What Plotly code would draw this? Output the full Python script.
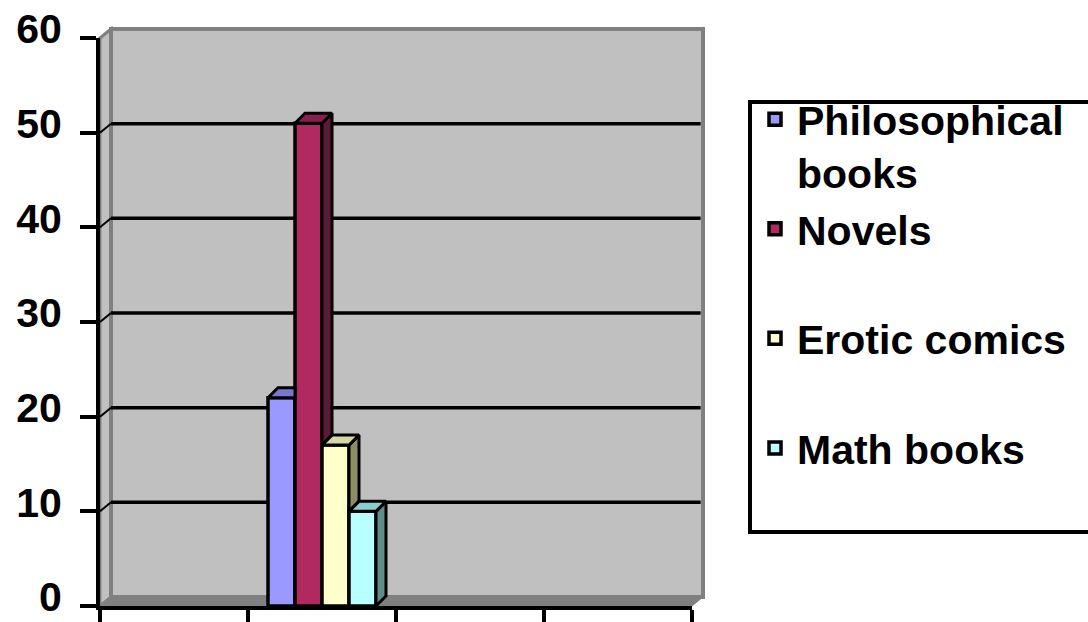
import plotly.graph_objects as go

# ---------------- data ----------------
series_names = ["Philosophical<br>books", "Novels", "Erotic comics", "Math books"]
series_values = [22, 51, 17, 10]
front_colors = ["#9999FF", "#B0295F", "#FFFFCC", "#B8FFFF"]
side_colors = ["#5C5C99", "#5E1A3A", "#8C8C66", "#5E8C88"]
top_colors = ["#7777CC", "#8A2050", "#D6D6A6", "#8CCCCC"]
y_tick_values = [0, 10, 20, 30, 40, 50, 60]
x_slot_edges = [0, 1, 2, 3, 4]
data_slot = 1  # the bars sit in the second category slot

# ---------------- geometry ----------------
W, H = 1088, 622
PL, PR, PT, PB = 100, 692, 38, 606          # plot-area pixel box
X_MAX = x_slot_edges[-1]
Y_MAX = y_tick_values[-1]
px_per_x = (PR - PL) / X_MAX
px_per_y = (PB - PT) / Y_MAX

# wall depth offset (pixels) -> paper units
wall_dx = 11 / (PR - PL)
wall_dy = 9 / (PB - PT)
# bar depth offset (pixels) -> data units
bar_dx = 10 / px_per_x
bar_dy = 10 / px_per_y

slot_center = data_slot + 0.5
bar_w = 27 / px_per_x
group_w = bar_w * len(series_values)

BOLD = dict(family="Liberation Sans, Arial, sans-serif", weight="bold", color="black")


def paper_x(px):
    return (px - PL) / (PR - PL)


def paper_y(py):
    return (PB - py) / (PB - PT)


fig = go.Figure()

# front faces as real bars
for i, (name, v) in enumerate(zip(series_names, series_values)):
    label = name if "<br>" in name else name + "<br> "
    fig.add_trace(go.Bar(
        x=[slot_center], y=[v], width=bar_w, offset=-group_w / 2 + i * bar_w,
        name=label, marker=dict(color=front_colors[i], line=dict(color="black", width=3.5)),
        hoverinfo="skip",
    ))

# 3-D top and side faces, derived from the values
for i, v in enumerate(series_values):
    left = slot_center - group_w / 2 + i * bar_w
    right = left + bar_w
    nxt = series_values[i + 1] if i + 1 < len(series_values) else None
    if nxt is not None and nxt > v:
        tx = [left, right, right, left + bar_dx, left]
    else:
        tx = [left, right, right + bar_dx, left + bar_dx, left]
    ty = [v, v, v + bar_dy, v + bar_dy, v]
    bottom = nxt if nxt is not None else 0
    if v > bottom:
        sx = [right, right + bar_dx, right + bar_dx, right, right]
        sy = [bottom, bottom + bar_dy, v + bar_dy, v, bottom]
        fig.add_trace(go.Scatter(x=sx, y=sy, mode="lines", fill="toself",
                                 fillcolor=side_colors[i], line=dict(color="black", width=3),
                                 showlegend=False, hoverinfo="skip"))
    fig.add_trace(go.Scatter(x=tx, y=ty, mode="lines", fill="toself",
                             fillcolor=top_colors[i], line=dict(color="black", width=3),
                             showlegend=False, hoverinfo="skip"))

# walls, floor and gridlines (paper coordinates)
shapes = []
shapes.append(dict(type="path", xref="paper", yref="paper", layer="below",
                   path=f"M 0,0 L {wall_dx},{wall_dy} L {wall_dx},{1 + wall_dy} L 0,1 Z",
                   fillcolor="#C0C0C0", line=dict(color="#808080", width=3)))
shapes.append(dict(type="rect", xref="paper", yref="paper", layer="below",
                   x0=wall_dx, x1=1 + wall_dx, y0=wall_dy, y1=1 + wall_dy,
                   fillcolor="#C0C0C0", line=dict(color="#808080", width=4)))
shapes.append(dict(type="path", xref="paper", yref="paper", layer="below",
                   path=f"M 0,0 L 1,0 L {1 + wall_dx},{wall_dy} L {wall_dx},{wall_dy} Z",
                   fillcolor="#808080", line=dict(color="#808080", width=1)))
for t in y_tick_values[1:-1]:
    yp = t / Y_MAX
    shapes.append(dict(type="line", xref="paper", yref="paper", layer="below",
                       x0=wall_dx, x1=1 + wall_dx - 0.004, y0=yp + wall_dy, y1=yp + wall_dy,
                       line=dict(color="black", width=3.5)))
    shapes.append(dict(type="line", xref="paper", yref="paper", layer="below",
                       x0=0, x1=wall_dx, y0=yp, y1=yp + wall_dy,
                       line=dict(color="black", width=2)))
# legend frame
shapes.append(dict(type="rect", xref="paper", yref="paper", layer="below",
                   x0=paper_x(750), x1=paper_x(1100), y0=paper_y(532), y1=paper_y(102),
                   fillcolor="white", line=dict(color="black", width=4)))

fig.update_layout(
    width=W, height=H,
    margin=dict(l=PL, r=W - PR, t=PT, b=H - PB, pad=0, autoexpand=False),
    paper_bgcolor="white", plot_bgcolor="rgba(0,0,0,0)",
    barmode="overlay",
    shapes=shapes,
    showlegend=True,
    legend=dict(
        xref="container", yref="container", x=753 / W, y=1 - 86 / H,
        xanchor="left", yanchor="top", valign="top",
        bgcolor="rgba(0,0,0,0)", borderwidth=0, itemwidth=34,
        maxheight=600,
        font=dict(size=41, **BOLD), traceorder="normal",
    ),
    xaxis=dict(range=[0, X_MAX], tickvals=x_slot_edges, showticklabels=False,
               ticks="outside", ticklen=16, tickwidth=4, tickcolor="black",
               showline=True, linecolor="black", linewidth=4, automargin=False,
               showgrid=False, zeroline=False, fixedrange=True),
    yaxis=dict(range=[0, Y_MAX], tickvals=y_tick_values,
               ticks="outside", ticklen=16, tickwidth=4, tickcolor="black",
               showline=True, linecolor="black", linewidth=4, automargin=False,
               showgrid=False, zeroline=False, fixedrange=True,
               tickfont=dict(size=41, **BOLD), ticklabelstandoff=10, ticklabelshift=-9,
               ticklabeloverflow="allow"),
)

fig.write_html("out.html", config={"displayModeBar": False},
               post_script="document.body.style.margin='0';")
